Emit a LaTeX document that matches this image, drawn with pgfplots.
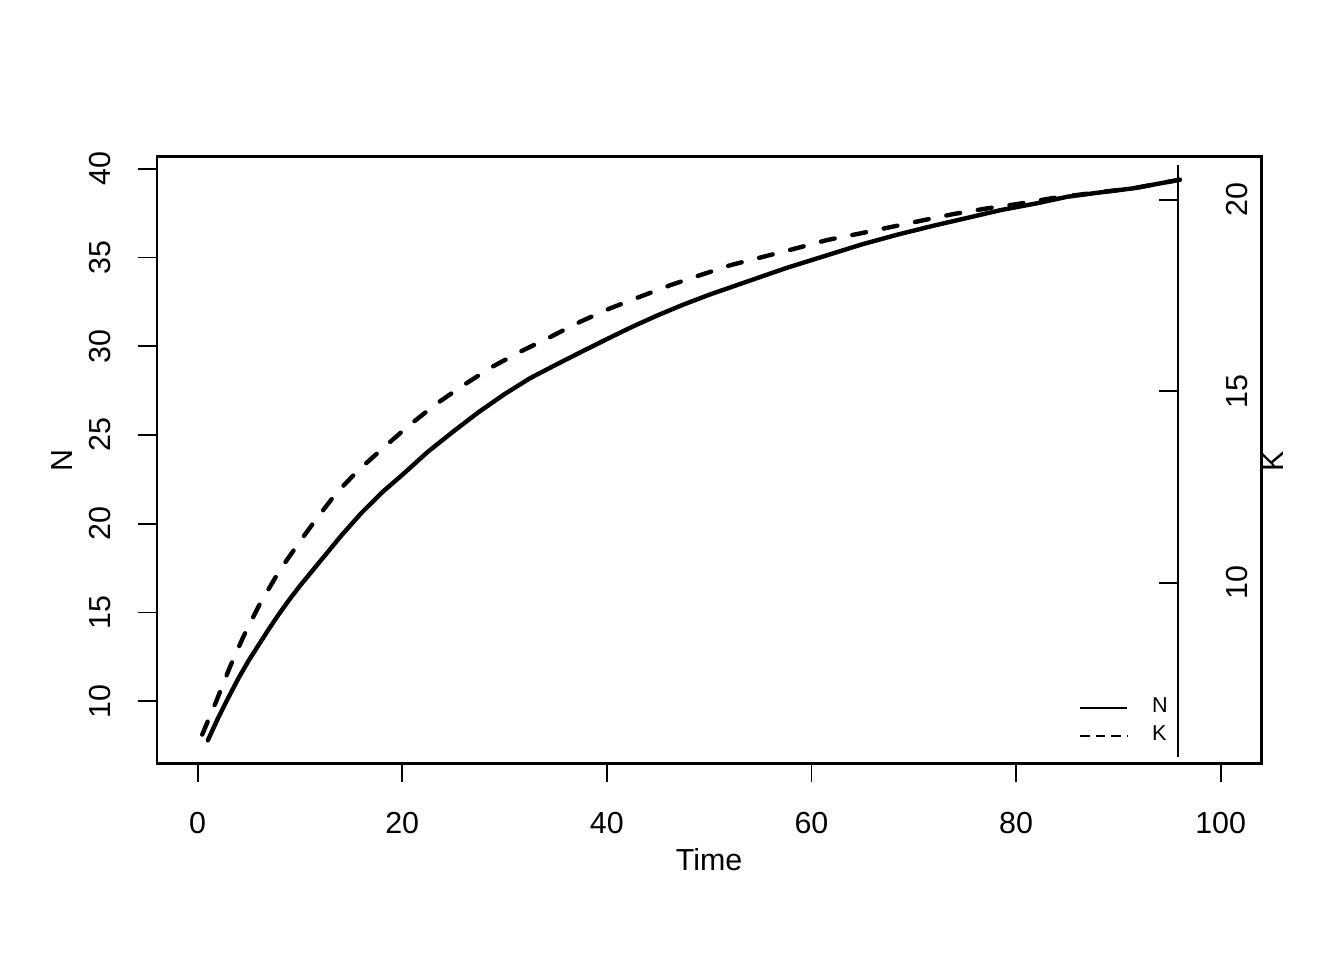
\documentclass[border=0pt]{standalone}
\usepackage{fontspec}
\setmainfont{Liberation Sans}
\usepackage{pgfplots}
\pgfplotsset{compat=1.18}
\begin{document}
\begin{tikzpicture}[x=1pt,y=1pt]
\path[use as bounding box] (0,0) rectangle (336,240);
\begin{axis}[
  at={(39.175pt,49.125pt)}, anchor=south west,
  width=276.2pt, height=151.7pt, scale only axis,
  xmin=-4, xmax=104, ymin=6.49, ymax=40.68,
  axis line style={line width=0.6pt},
  tick pos=left, tick align=outside,
  major tick length=4.6pt,
  every tick/.style={black, line width=0.45pt},
  xtick={0,20,...,100}, ytick={10,15,...,40},
  /pgf/number format/assume math mode=true,
  tick label style={font=\fontsize{7.6}{8}\selectfont},
  xticklabel style={anchor=north, inner sep=0pt, yshift=-7.275pt},
  yticklabel style={xshift=-6.65pt, rotate=90, anchor=south, inner sep=0pt},
  xlabel={Time}, ylabel={N},
  every axis x label/.style={at={(axis description cs:0.5,-0.177)}, anchor=base, inner sep=0pt, font=\fontsize{7.6}{8}\selectfont},
  every axis y label/.style={at={(axis description cs:-0.0755,0.5)}, rotate=90, anchor=south, inner sep=0pt, font=\fontsize{7.6}{8}\selectfont},
  legend style={at={(axis description cs:0.8348,0.1079)}, anchor=north west, draw=none, fill=none,
    inner sep=0pt, outer sep=0pt, font=\fontsize{5.4}{6}\selectfont, row sep=1.7pt, column sep=6.0pt,
    nodes={inner sep=0pt}},
  legend cell align=left,
  legend image code/.code={\draw[#1] (0pt,0pt) -- (11.75pt,0pt);},
]
\addplot[black, line width=1.1pt, line cap=round, line join=round, forget plot] coordinates {
(1,7.8) (2,9.05) (3,10.2) (4,11.3) (5,12.3) (6,13.2) (7,14.1) (8,14.95) (9,15.75) (10,16.5)
(12,17.9) (14,19.3) (16,20.6) (18,21.75) (20,22.75) (22.5,24.05) (25,25.2) (27.5,26.3)
(30,27.3) (32.5,28.2) (35,28.95) (37.5,29.68) (40,30.4) (42.5,31.1) (45,31.75) (47.5,32.35)
(50,32.9) (52.5,33.4) (55,33.9) (57.5,34.4) (60,34.85) (62.5,35.3) (65,35.75) (68.5,36.3)
(72,36.8) (75,37.2) (78.5,37.67) (82,38.05) (85,38.42) (88,38.65) (91.5,38.9) (96,39.38)
};
\addplot[black, line width=1.1pt, line cap=round, line join=round, dash pattern=on 3.5pt off 4.5pt, forget plot] coordinates {
(0.45,8.12) (1.86,10.05) (3.16,11.93) (4.46,13.62) (6.1,15.5) (8.05,17.4) (10,19.0)
(11.64,20.3) (13.6,21.75) (15.6,22.95) (18,24.2) (20.8,25.6) (23.4,26.78) (26,27.81)
(28.8,28.84) (31.5,29.68) (34.5,30.53) (37.4,31.38) (40.3,32.13) (43.3,32.8) (46.2,33.44)
(49.1,34.0) (52.1,34.57) (55.3,35.04) (58.6,35.53) (61.5,35.98) (64.8,36.36) (67.8,36.72)
(70.7,37.07) (73.9,37.45) (77.2,37.77) (80.1,38.01) (83.4,38.33) (87,38.6) (91.5,38.9) (96,39.38)
};
\addlegendimage{black, line width=0.5pt}
\addlegendentry{N}
\addlegendimage{black, line width=0.5pt, dash pattern=on 2.4pt off 1.5pt}
\addlegendentry{K}
\end{axis}
\begin{axis}[
  at={(39.175pt,50.75pt)}, anchor=south west,
  width=255.25pt, height=148pt, scale only axis,
  xmin=0, xmax=1, ymin=5.448, ymax=20.909,
  hide x axis,
  axis y line*=right,
  axis line style={line width=0.45pt},
  tick align=inside, major tick length=4.6pt,
  every tick/.style={black, line width=0.45pt},
  ytick={10,15,20},
  /pgf/number format/assume math mode=true,
  yticklabel style={xshift=12pt, rotate=90, anchor=north, inner sep=0pt, font=\fontsize{7.6}{8}\selectfont},
  ylabel={K},
  every axis y label/.style={at={(axis description cs:1.0826,0.5)}, rotate=90, anchor=north, inner sep=0pt, font=\fontsize{7.6}{8}\selectfont},
]
\end{axis}
\end{tikzpicture}
\end{document}
